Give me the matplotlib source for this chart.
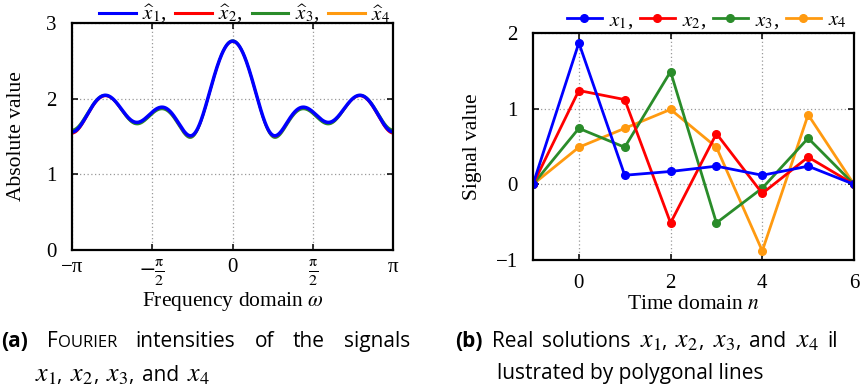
import numpy as np
import matplotlib
matplotlib.use('Agg')
import matplotlib.pyplot as plt

plt.rcParams['font.family'] = ['Liberation Serif', 'DejaVu Serif']
plt.rcParams['mathtext.fontset'] = 'stix'
plt.rcParams['axes.unicode_minus'] = True

# Signale im Zeitbereich (n = -1 ... 6)
n = [-1, 0, 1, 2, 3, 4, 5, 6]
x1 = [0, 1.87, 0.12, 0.17, 0.24, 0.12, 0.24, 0]
x2 = [0, 1.24, 1.12, -0.51, 0.67, -0.12, 0.36, 0]
x3 = [0, 0.74, 0.49, 1.49, -0.51, -0.05, 0.61, 0]
x4 = [0, 0.49, 0.74, 0.99, 0.49, -0.88, 0.92, 0]

names = ['1', '2', '3', '4']
colors = ['#0000ff', '#ff0000', '#2a8c2a', '#ff9a10']

freq_ticks = [-np.pi, -np.pi / 2, 0, np.pi / 2, np.pi]
freq_labels = ['−π', r'$-\frac{\mathrm{\pi}}{2}$', '0', r'$\frac{\mathrm{\pi}}{2}$', 'π']
abs_ticks = [0, 1, 2, 3]
time_ticks = [0, 2, 4, 6]
val_ticks = [-1, 0, 1, 2]
val_labels = ['−1', '0', '1', '2']

W, H = 861, 390
fig = plt.figure(figsize=(W / 100, H / 100), dpi=100)
FS = 15
LFS = 15.5


def style_axes(ax):
    for s in ax.spines.values():
        s.set_linewidth(1.6)
    ax.tick_params(direction='in', top=True, right=True, length=4, width=1.1,
                   labelsize=FS)
    ax.grid(True, linestyle=(0, (1, 2)), color='#999999', linewidth=0.9)
    ax.set_axisbelow(True)


# --- (a) Betrag der Fourier-Transformierten ---
axa = fig.add_axes([72 / W, 1 - 250 / H, 321.3 / W, 227 / H])
omega = np.linspace(-np.pi, np.pi, 800)
signals = [x1, x2, x3, x4]
for k in reversed(range(4)):
    xs = np.array(signals[k])
    spec = np.abs(np.exp(-1j * np.outer(omega, n)) @ xs)
    axa.plot(omega, spec, color=colors[k], linewidth=2.5 if k == 0 else 1.6,
             label=r'$\widehat{x}_%s$' % names[k] + (',' if k < 3 else ''))
axa.set_xlim(-np.pi, np.pi)
axa.set_ylim(0, 3)
axa.set_xticks(freq_ticks)
axa.set_xticklabels(freq_labels)
axa.set_yticks(abs_ticks)
style_axes(axa)
for lbl in axa.get_xticklabels():
    if 'frac' in lbl.get_text():
        lbl.set_fontsize(16.5)
axa.tick_params(axis='x', pad=6)
axa.tick_params(axis='y', pad=11)
axa.set_xlabel(r'Frequency domain $\omega$', fontsize=LFS)
axa.xaxis.set_label_coords(0.5, -0.229)
axa.xaxis.label.set_va('center')
axa.set_ylabel('Absolute value', fontsize=LFS)
axa.yaxis.set_label_coords(-0.174, 0.5)
axa.yaxis.label.set_va('center')

h, l = axa.get_legend_handles_labels()
leg = axa.legend(h[::-1], l[::-1], ncol=4, frameon=False, fontsize=FS,
                 loc='lower right', bbox_to_anchor=(0.99, 0.99), borderaxespad=0,
                 handlelength=1.75, handletextpad=0.3, columnspacing=0.45,
                 borderpad=0)
for line in leg.get_lines():
    line.set_linewidth(2.2)

# --- (b) Signale als Polygonzüge ---
axb = fig.add_axes([533 / W, 1 - 260 / H, 321 / W, 227 / H])
for k in reversed(range(4)):
    axb.plot(n, signals[k], color=colors[k], linewidth=2, marker='o',
             markersize=5.5, label=r'$x_%s$' % names[k] + (',' if k < 3 else ''))
axb.set_xlim(-1, 6)
axb.set_ylim(-1, 2)
axb.set_xticks(time_ticks)
axb.set_yticks(val_ticks)
axb.set_yticklabels(val_labels)
style_axes(axb)
axb.tick_params(axis='x', pad=10)
axb.tick_params(axis='y', pad=11)
axb.set_xlabel(r'Time domain $n$', fontsize=LFS)
axb.xaxis.set_label_coords(0.5, -0.198)
axb.xaxis.label.set_va('center')
axb.set_ylabel('Signal value', fontsize=LFS)
axb.yaxis.set_label_coords(-0.187, 0.5)
axb.yaxis.label.set_va('center')

h, l = axb.get_legend_handles_labels()
axb.legend(h[::-1], l[::-1], ncol=4, frameon=False, fontsize=FS,
           loc='lower right', bbox_to_anchor=(0.985, 1.0), borderaxespad=0,
           handlelength=1.7, handletextpad=0.35, columnspacing=0.3,
           borderpad=0.1)

# --- Bildunterschriften ---
SANS = ['Open Sans', 'DejaVu Sans']
CFS = 15
MFS = CFS * 1.25  # Formelgröße im Fließtext
renderer = fig.canvas.get_renderer()


def put(x, y, s, size=CFS, **kw):
    t = fig.text(x / W, 1 - y / H, s, va='baseline', ha='left',
                 family=SANS, fontsize=size, **kw)
    return t, t.get_window_extent(renderer).width


def measure(parts):
    w = 0
    for s, size, kw in parts:
        t, tw = put(0, -100, s, size, **kw)
        t.remove()
        w += tw
    return w


def run(parts, x, y):
    for s, size, kw in parts:
        _, tw = put(x, y, s, size, **kw)
        x += tw
    return x


def justify(words, x0, x1, y):
    # Blocksatz: Wörter gleichmäßig zwischen x0 und x1 verteilen
    widths = [measure(p) for p in words]
    gap = (x1 - x0 - sum(widths)) / (len(words) - 1)
    x = x0
    for parts, w in zip(words, widths):
        run(parts, x, y)
        x += w + gap


def word(s, **kw):
    return [(s, CFS, kw)]


def mword(sym, tail=''):
    parts = [(sym, MFS, {})]
    if tail:
        parts.append((tail, CFS, {}))
    return parts


justify([word('(a)', weight='bold'),
         [('F', CFS, {}), ('OURIER', CFS * 0.8, {})],
         word('intensities'), word('of'), word('the'), word('signals')],
        1, 410, 347)
justify([mword(r'$x_1$', ','), mword(r'$x_2$', ','), mword(r'$x_3$', ','),
         word('and'), mword(r'$x_4$')],
        35, 210, 381)

justify([word('(b)', weight='bold'), word('Real'), word('solutions'),
         mword(r'$x_1$', ','), mword(r'$x_2$', ','), mword(r'$x_3$', ','),
         word('and'), mword(r'$x_4$'), word('il')],
        455, 838, 347)
put(497, 379, 'lustrated by polygonal lines')

fig.savefig('out.png', dpi=100)
